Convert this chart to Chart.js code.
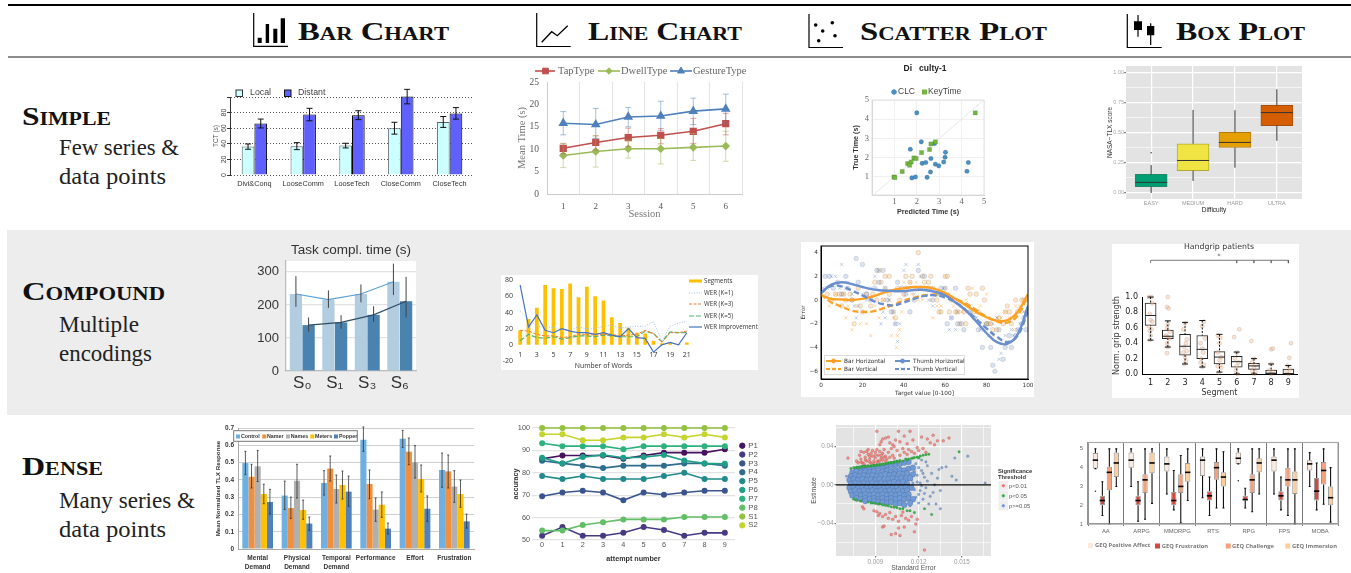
<!DOCTYPE html>
<html>
<head>
<meta charset="utf-8">
<title>Chart types by complexity</title>
<script src="https://cdn.jsdelivr.net/npm/chart.js@4/dist/chart.umd.js"></script>
<style>
  html, body { margin: 0; padding: 0; background: #fff; width: 1351px; height: 573px; overflow: hidden; }
  canvas { position: absolute; }
  #frame { position: absolute; left: 0; top: 0; }
  .head { font: bold 26px "Liberation Serif", serif; font-variant: small-caps; fill: #111; }
  .desc { font: 22.5px "Liberation Serif", serif; fill: #222; }
</style>
</head>
<body>
<svg id="frame" width="1351" height="573" xmlns="http://www.w3.org/2000/svg">
  <rect x="7" y="230" width="1344" height="185" fill="#ededed"/>
  <rect x="501" y="275" width="257" height="95" fill="#fff"/>
  <rect x="801" y="242" width="233" height="155" fill="#fff"/>
  <rect x="1112" y="244" width="187" height="154" fill="#fff"/>
  <line x1="8" y1="5" x2="1351" y2="5" stroke="#000" stroke-width="2"/>
  <line x1="8" y1="57" x2="1351" y2="57" stroke="#666" stroke-width="1.5"/>

  <!-- column header icons -->
  <path d="M253.7 13V46.3H288" fill="none" stroke="#000" stroke-width="1.2"/>
  <path d="M257.7 37.7h4V43h-4zM265.7 24h3.4v19h-3.4zM273.3 28.7h4V43h-4zM280.7 18.3h4.3V43h-4.3z" fill="#000"/>
  <path d="M536.7 13V46.5H570.7" fill="none" stroke="#000" stroke-width="1.2"/>
  <path d="M541.7 42.3L551.7 31.7L557.3 35.7L567.7 25.7" fill="none" stroke="#000" stroke-width="1.3"/>
  <path d="M809 14V47.5H843" fill="none" stroke="#000" stroke-width="1.2"/>
  <g fill="#000">
    <circle cx="815.7" cy="25" r="1.8"/><circle cx="832.3" cy="22.7" r="1.8"/><circle cx="822.7" cy="31" r="1.8"/>
    <circle cx="835" cy="35.7" r="1.8"/><circle cx="818.7" cy="40.7" r="1.8"/>
  </g>
  <path d="M1127.3 14V47.5H1161.7" fill="none" stroke="#000" stroke-width="1.2"/>
  <path d="M1138 15V36.7M1150.7 23.3V45" fill="none" stroke="#000" stroke-width="1.2"/>
  <path d="M1134 21.3h8V30h-8zM1147 26h7.3v9.3H1147z" fill="#000"/>

  <text class="head" x="298" y="40" textLength="151" lengthAdjust="spacingAndGlyphs">Bar Chart</text>
  <text class="head" x="588" y="40" textLength="154" lengthAdjust="spacingAndGlyphs">Line Chart</text>
  <text class="head" x="860" y="40" textLength="187" lengthAdjust="spacingAndGlyphs">Scatter Plot</text>
  <text class="head" x="1176" y="40" textLength="129" lengthAdjust="spacingAndGlyphs">Box Plot</text>

  <text class="head" x="22" y="125" textLength="89" lengthAdjust="spacingAndGlyphs">Simple</text>
  <text class="desc" x="59" y="155" textLength="120" lengthAdjust="spacingAndGlyphs">Few series &amp;</text>
  <text class="desc" x="59" y="184" textLength="107" lengthAdjust="spacingAndGlyphs">data points</text>
  <text class="head" x="22" y="300" textLength="143" lengthAdjust="spacingAndGlyphs">Compound</text>
  <text class="desc" x="59" y="332" textLength="80" lengthAdjust="spacingAndGlyphs">Multiple</text>
  <text class="desc" x="59" y="361" textLength="93" lengthAdjust="spacingAndGlyphs">encodings</text>
  <text class="head" x="22" y="475" textLength="81" lengthAdjust="spacingAndGlyphs">Dense</text>
  <text class="desc" x="59" y="508" textLength="136" lengthAdjust="spacingAndGlyphs">Many series &amp;</text>
  <text class="desc" x="59" y="537" textLength="107" lengthAdjust="spacingAndGlyphs">data points</text>
</svg>

<script>
// ---- Simple / bar chart ----
const simpleBarLabels = ['Divi&Conq', 'LooseComm', 'LooseTech', 'CloseComm', 'CloseTech']
const localTct = [36.4, 37, 37.7, 60, 68]
const localTctLow = [33, 32.5, 34.7, 52.4, 61]
const localTctHigh = [39.8, 41.5, 40.7, 67.6, 75]
const distantTct = [66, 77.5, 76.7, 100.5, 79]
const distantTctLow = [60.3, 69.5, 71, 91.2, 71.6]
const distantTctHigh = [71.7, 85.5, 82.4, 109.8, 86.4]

// ---- Simple / line chart ----
const sessions = ['1', '2', '3', '4', '5', '6']
const tapType = [10.2, 11.5, 12.6, 13.1, 14, 15.7]
const tapTypeLow = [9, 9.8, 10.6, 11.2, 11.3, 13.2]
const tapTypeHigh = [11.3, 13, 14.7, 14.6, 16.9, 18]
const dwellType = [8.6, 9.5, 10.1, 10.1, 10.4, 10.7]
const dwellTypeLow = [5.9, 6, 8, 6.7, 7.5, 7.3]
const dwellTypeHigh = [11.2, 13, 12, 12.4, 13.5, 14]
const gestureType = [15.8, 15.5, 17.2, 17.4, 18.5, 19]
const gestureTypeLow = [13.2, 12.4, 15, 14.2, 15.5, 15.8]
const gestureTypeHigh = [18.4, 19.1, 19.3, 20.7, 21.4, 22.3]

// ---- Simple / scatter plot ----
const clcPoints = [[2, 4.33], [2.2, 2.82], [1.71, 2.43], [2.79, 2.73], [3.28, 2.28], [3.26, 2.02], [2.63, 1.95], [2.24, 1.7], [2.4, 1.74],
  [2.83, 1.65], [2.98, 1.57], [3.2, 1.77], [4.3, 1.74], [4.24, 1.29], [2.61, 1.25], [1.78, 0.94], [1.94, 0.99], [2.46, 0.97]]
const keyTimePoints = [[4.61, 4.33], [2.83, 2.82], [2.63, 2.71], [2.57, 2.42], [2.21, 2.26], [1.87, 1.98], [1.97, 1.95], [1.59, 1.69],
  [1.75, 1.77], [1.68, 1.6], [1.35, 1.27], [0.98, 0.99], [1.02, 0.96]]
const identityLine = [[0, 0], [5, 5]]

// ---- Simple / box plot ----
const difficulties = ['EASY', 'MEDIUM', 'HARD', 'ULTRA']
const difficultySlots = [1, 2, 3, 4]
const tlxQ1 = [0.052, 0.185, 0.378, 0.56]
const tlxQ3 = [0.155, 0.409, 0.503, 0.729]
const tlxMedian = [0.088, 0.27, 0.42, 0.668]
const tlxLow = [0, 0.1, 0.21, 0.434]
const tlxHigh = [0.232, 0.69, 0.688, 0.862]
const tlxOutliers = [0.334, null, null, null]
const tlxColors = ['#009e73', '#f0e442', '#e69f00', '#d55e00']
const tlxEdges = ['#1f8a68', '#b3aa35', '#b07c0c', '#a84f10']

// ---- Compound / bar chart ----
const stimuli = ['S₀', 'S₁', 'S₃', 'S₆']
const complLight = [233, 216, 233, 270]
const complLightLow = [194, 191, 208, 230]
const complLightHigh = [287, 244, 262, 325]
const complDark = [139, 147, 170, 211]
const complDarkLow = [119, 128, 149, 162]
const complDarkHigh = [162, 169, 196, 285]

// ---- Compound / line chart ----
const wordCounts = ['1', '2', '3', '4', '5', '6', '7', '8', '9', '10', '11', '12', '13', '14', '15', '16', '17', '18', '19', '20', '21']
const segments = [18, 32, 46, 74, 70, 69, 76, 59, 72, 60, 55, 34, 27, 21, 15, 14, 5, 2, 3, 1, 3]
const werK1 = [42, 32, 23, 22, 22, 19, 19, 22, 20, 20, 23, 24, 21, 22, 23, 23, 29, 5, 23, 27, 29]
const werK3 = [18, 17, 13, 11, 11, 9, 10, 13, 13, 12, 13, 13, 11, 12, 13, 18, 14, 3, 15, 15, 17]
const werK5 = [5, 13, 9, 8, 10, 7, 9, 11, 11, 10, 12, 11, 10, 10, 10, 17, 14, 4, 16, 15, 15]
const werImprovement = [74, 22, 37, 18, 15, 20, 17, 15, 15, 13, 15, 12, 10, 20, 9, 8, -9, 0, 3, 0, 15]

// ---- Compound / scatter plot ----
const targetSteps = [0, 5, 10, 15, 20, 25, 30, 35, 40, 45, 50, 55, 60, 65, 70, 75, 80, 85, 90, 95, 100]
const barHorizontalFit = [0.4, 0.1, 0.05, 0, 0.1, 0.3, 0.6, 0.85, 1, 1.1, 1.1, 0.95, 0.6, 0.1, -0.45, -1, -1.45, -1.75, -1.7, -1, 0.5]
const barVerticalFit = [0.5, -0.2, -0.55, -0.9, -1, -0.95, -0.7, -0.4, -0.05, 0.2, 0.4, 0.45, 0.4, 0.1, -0.3, -0.85, -1.4, -1.8, -1.9, -1.3, 0.4]
const thumbHorizontalFit = [0.6, 1.3, 1.5, 1.35, 1.1, 0.9, 0.8, 0.75, 0.75, 0.85, 0.85, 0.7, 0.4, -0.2, -0.9, -1.8, -2.8, -3.55, -3.7, -2.9, -0.5]
const thumbVerticalFit = [0.6, 1.2, 1.15, 0.8, 0.4, -0.05, -0.35, -0.45, -0.2, 0.1, 0.35, 0.4, 0.2, -0.2, -0.85, -1.6, -2.4, -3.1, -3.55, -3, -0.9]
const barHorizontalPoints = [[3, .5], [5, 0], [7, .5], [9, .5], [10, -.5], [11, .5], [12, 0], [14, .5], [15, 0], [16, -2], [18, 1], [19, -.5], [20, -1], [22, .5], [24, -.5],
  [25, .5], [26, 1.5], [27, 0], [28, 2.5], [29, 1.5], [30, 0], [31, 2], [33, 2], [33, .5], [35, -1], [36, -1.5], [37, 1], [38, 0], [40, .5], [41, 1], [41, 2], [43, 1.5], [44, 2],
  [46, 1], [47, 4], [48, 1], [49, 2], [50, 1.5], [52, 1.5], [53, 2], [54, 1], [55, .5], [56, 0], [57, -1], [58, -1], [60, 2], [61, 2], [62, -1], [63, 0], [65, -1], [66, -1], [67, -2],
  [69, -1], [70, -2], [71, 1], [72, .5], [74, -1], [75, .5], [76, -1], [78, 1], [79, 0], [80, -2], [81, -2], [82, -2], [83, -2.5], [85, -2.5], [86, -1.5], [88, -2], [89, -1], [90, -.5],
  [91, -1], [92, -2], [94, 0], [95, -1], [97, 0], [98, 0], [99, 0]]
const barVerticalPoints = [[4, -.5], [7, .5], [9, -.5], [11, .5], [12, -1.5], [13, -.5], [15, -2.5], [17, -.5], [19, -2], [21, -1], [22, -2], [24, -3], [26, -.5], [28, -1.5], [30, 0],
  [31, 1], [33, 0], [34, -3], [35, -1.5], [37, -3], [36.5, -4], [38, -2.5], [39, -1], [40, 1.5], [42, 1], [43, 1.5], [44, .5], [46, 1.5], [47, 0], [49, 0], [51, 1], [53, 0], [54, -1.5], [56, -.5],
  [58, -.5], [60, 1], [62, .5], [64, -.5], [66, -1], [68, -1], [70, 0], [72, -.5], [73, 1], [75, -1], [77, -.5], [79, -2], [80, .5], [81, -1.5], [83, -3], [85, -1.5], [87, -1.5], [89, -1],
  [91, -1.5], [93, -2.5], [94, -.5], [96, -.5], [98, -1], [100, 0]]
const thumbHorizontalPoints = [[2, 2], [4, 2], [6, 1], [8, 1.5], [10, .5], [12, 2], [13, 1], [15, 0], [17, 3.5], [18, 1.5], [20, 3], [22, .5], [24, 0], [26, 1], [27, 2.5], [28, 1.5],
  [30, 2.5], [31, 1], [32, 0], [34, -1], [36, -2], [37, 1.5], [39, 1], [41, .5], [43, -1], [45, 0], [47, 2.5], [48, 1], [50, 2], [52, 1], [54, 0], [56, .5], [58, 1], [60, 1], [61, -2],
  [63, -1.5], [65, 1], [66, -2], [68, -2], [69, -2.5], [72, -1], [74, -1.5], [76, -2.5], [78, -4], [80, -2], [82, -4], [83, -5.5], [84, -6], [86, -2.5], [88, -5], [89, -4], [91, -3],
  [92, -4], [94, -3], [95, -2.5], [97, -2], [98, -1.5], [100, -1], [99, -2.5]]
const thumbVerticalPoints = [[1, 1], [3, 1], [5, 2], [7, 2], [9, 1], [10, 3], [12, 1], [13, 1.5], [15, .5], [16, -.5], [17, -1.5], [18, -.5], [20, .5], [22, 0], [24, 1], [26, 2], [28, 2.5],
  [29, -2], [30, -1], [31, -1.5], [33, 0], [35, -1], [36, -2], [37, -3.5], [38, -2], [40, 2.5], [41, 3], [43, 1], [45, .5], [47, 3], [48, 2], [50, 1], [52, 0], [54, -.5], [57, .5], [59, 1],
  [61, .5], [62, -2.5], [63, -1.5], [65, -2.5], [66, -1], [68, -.5], [72, -1], [75, -1.5], [77, -2.5], [79, -2.5], [81, -3], [83, -2], [85, -1.5], [86, -5], [87, -4.5], [89, -3],
  [90, -3.5], [92, -2.5], [93, -3], [95, -2.5], [96, -2], [98, -1], [100, -.5]]

// ---- Compound / box plot ----
const gripSegments = [1, 2, 3, 4, 5, 6, 7, 8, 9]
const gripQ1 = [0.63, 0.46, 0.245, 0.2, 0.13, 0.09, 0.06, 0, 0]
const gripQ3 = [0.92, 0.57, 0.515, 0.5, 0.29, 0.23, 0.14, 0.05, 0.065]
const gripMedian = [0.76, 0.49, 0.36, 0.32, 0.22, 0.16, 0.105, 0.01, 0.005]
const gripLow = [0.44, 0.35, 0.13, 0.09, 0.025, 0, 0, 0, 0]
const gripHigh = [1, 0.69, 0.67, 0.695, 0.515, 0.285, 0.2, 0.13, 0.11]
const gripPoints = [[.9, 1], [1.05, 1], [1.1, .92], [.95, .78], [1, .7], [1.1, .68], [.9, .62], [.95, .56], [1, .5], [.95, .44], [1.05, .58],
  [2, 1], [1.95, .87], [2.05, .85], [2, .65], [1.95, .6], [2.1, .55], [1.9, .5], [2, .48], [2.1, .46], [1.95, .4], [2, .35], [1.95, .27],
  [3, .66], [2.9, .58], [3.1, .45], [3.05, .4], [2.95, .35], [3.1, .3], [2.9, .28], [3, .22], [3.05, .17], [2.95, .13],
  [4.1, .68], [4, .62], [4.15, .46], [3.9, .4], [4, .33], [4.05, .28], [3.95, .2], [3.9, .15], [4.1, .12], [4, .09],
  [4.9, .5], [5.05, .47], [5, .4], [4.9, .28], [5.1, .22], [5, .18], [4.9, .1], [5.1, .08], [4.95, .02], [5.05, .12],
  [5.85, .48], [6.15, .58], [6, .28], [5.9, .2], [6.1, .15], [6, .1], [5.95, .05], [6.05, 0],
  [6.85, .43], [7, .2], [6.9, .15], [7.1, .12], [7, .08], [6.9, .04], [7.1, .02], [7, 0],
  [8, .32], [8.1, .33], [8, .13], [7.9, .05], [8.1, .03], [8, 0],
  [9.15, .4], [9.05, .21], [8.95, .11], [9.1, .06], [8.9, .03], [9, 0]]
const gripBracket = [[1, 1.44], [1, 1.477], [6, 1.477], [6, 1.44], [6, 1.477], [7, 1.477], [7, 1.44], [7, 1.477], [8, 1.477], [8, 1.44], [8, 1.477], [9, 1.477], [9, 1.44]]

// ---- Dense / bar chart ----
const tlxScales = [['Mental', 'Demand'], ['Physical', 'Demand'], ['Temporal', 'Demand'], 'Performance', 'Effort', 'Frustration']
const controlTlx = [.497, .309, .382, .632, .638, .457]
const controlLow = [.43, .229, .312, .565, .588, .357]
const controlHigh = [.565, .393, .453, .706, .686, .555]
const namerTlx = [.418, .237, .465, .376, .563, .449]
const namerLow = [.353, .177, .393, .291, .488, .353]
const namerHigh = [.49, .3, .538, .457, .642, .544]
const namesTlx = [.478, .395, .347, .228, .501, .361]
const namesLow = [.39, .295, .266, .16, .411, .27]
const namesHigh = [.57, .49, .428, .295, .598, .453]
const metersTlx = [.318, .226, .37, .256, .405, .318]
const metersLow = [.262, .172, .289, .183, .33, .241]
const metersHigh = [.375, .283, .451, .33, .486, .399]
const popperTlx = [.272, .147, .332, .118, .233, .16]
const popperLow = [.202, .108, .247, .087, .16, .121]
const popperHigh = [.345, .185, .422, .15, .307, .202]

// ---- Dense / line chart ----
const attempts = [0, 1, 2, 3, 4, 5, 6, 7, 8, 9]
const accP1 = [86.2, 87.7, 87.7, 87.7, 86.3, 87.7, 89, 89, 89, 90.5]
const accP2 = [51.9, 55.8, 51.9, 51.9, 53.2, 55.8, 54.5, 51.9, 53.2, 53.2]
const accP3 = [69.5, 71.2, 72, 71.2, 67.7, 71.2, 70.2, 71.2, 72, 72]
const accP4 = [85.4, 84.2, 83.2, 82.1, 83.2, 83.2, 83.2, 84.2, 84.2, 83.2]
const accP5 = [78.6, 77.2, 78.6, 77.2, 77.2, 77.2, 78.6, 80, 77.2, 77.2]
const accP6 = [86.7, 84.2, 87, 88, 86.7, 87, 88, 85.5, 84.2, 84]
const accP7 = [93.2, 91.9, 91.9, 91.9, 90.5, 91.9, 91.9, 91.9, 91.9, 91.9]
const accP8 = [54.2, 54.2, 56.7, 57.9, 59.2, 59.2, 59.2, 60.3, 60.3, 60.3]
const accS1 = [100, 100, 100, 100, 100, 100, 100, 100, 100, 100]
const accS2 = [97.2, 97.2, 94.5, 94.5, 95.8, 95.8, 97.2, 95.8, 97.2, 95.8]
const participantNames = ['P1', 'P2', 'P3', 'P4', 'P5', 'P6', 'P7', 'P8', 'S1', 'S2']
const participantColors = ['#46125f', '#473a85', '#3a5490', '#2f6d8e', '#218a8c', '#1f9f88', '#2db27d', '#62bf66', '#93c23f', '#c6d42f']

// ---- Dense / scatter plot, standard error and estimate in thousandths ----
const pLow1Points = [[7.1, 28], [7.7, 25], [7.9, 31], [8, 27], [8.1, 23], [8.2, 34], [8.3, 29], [8.4, 25], [8.5, 37], [8.5, 32], [8.6, 27], [8.7, 23], [8.8, 36], [8.8, 30], [8.9, 25],
  [9, 34], [9, 28], [9.1, 37], [9.2, 31], [9.2, 25], [9.3, 35], [9.4, 28], [9.5, 33], [9.5, 26], [9.6, 37], [9.7, 30], [9.8, 27], [9.9, 34], [10, 29], [10.1, 38], [10.2, 31], [10.3, 28],
  [7.8, 23], [8, 24], [8.2, 22], [8.3, 26], [8.6, 24], [8.7, 33], [8.9, 22], [9.1, 24], [9.3, 25], [9.4, 31], [9.6, 29], [9.7, 25], [8.4, 35], [8, 35], [8.6, 30], [9, 31],
  [10.5, 36], [10.7, 31], [10.9, 38], [11, 34], [11.2, 32], [11.3, 37], [11.5, 35], [11.7, 33], [11.9, 39], [12, 36], [12.3, 38], [12.5, 34],
  [9.1, 56], [9.4, 45], [9.5, 48], [9.7, 49], [9.9, 50], [10, 44], [10.2, 42], [10.4, 47], [10.6, 56], [10.7, 45], [11, 51], [11.4, 56], [11.6, 47], [12.2, 50], [12.6, 48], [13, 52],
  [13.3, 46], [13.7, 46], [14.1, 49], [12.8, 44], [13.1, 42], [9.3, 42], [11.2, 43], [10.3, 40],
  [8.1, -23], [8.2, -25], [8.9, -27], [9.1, -28], [9.3, -30], [9.5, -33], [9.7, -31], [9.9, -35], [10, -29], [10.2, -36], [10.4, -33], [10.6, -38], [10.8, -32], [11.1, -35], [11.3, -37],
  [11.5, -33], [11.8, -41], [11.9, -36], [9.5, -44], [9.6, -43], [10.1, -52], [10.4, -51], [10.7, -53], [10.6, -45], [11, -44], [11.7, -49], [12.4, -68], [9.2, -32], [10.9, -28.5]]
const pLow5Points = [[7.3, 17], [7.5, 18], [7.7, 18.5], [7.9, 19], [8.1, 19.5], [8.3, 19.5], [8.5, 20], [8.7, 20], [8.9, 20.5], [9.1, 21], [9.3, 21.5], [9.5, 22], [9.7, 22], [9.9, 23],
  [10.1, 23.5], [10.3, 24], [10.5, 25], [10.7, 25.5], [10.9, 25], [11.1, 27], [11.3, 27], [11.5, 27.5], [11.7, 28.5], [11.9, 29], [12.1, 30], [12.3, 31], [12.5, 31.5], [12.7, 32], [14.8, 34.5],
  [7.8, 18], [8, 18.5], [8.2, 19], [8.4, 19.5], [8.6, 19.5], [8.8, 20], [9, 20], [9.2, 20.5], [9.4, 21], [9.6, 21.5], [9.8, 22.5], [10, 23], [10.2, 23], [10.4, 24], [10.6, 24], [11.2, 26], [11.6, 28], [12, 28],
  [7.5, -15], [7.7, -16], [8, -17], [8.5, -18], [8.8, -19], [9, -19.5], [9.3, -20], [9.5, -21], [9.7, -21.5], [9.9, -22], [10.1, -23], [10.3, -23.5], [10.5, -24], [10.7, -25], [10.9, -25],
  [11.2, -27], [11.4, -27], [11.7, -29], [12.4, -25], [12.9, -31], [8.7, -19], [9.2, -20]]
const pHighCorePoints = [
  [7.7, 16], [8, 17], [8.3, 18], [8.6, 17], [8.9, 18], [9.2, 19], [9.5, 18], [9.8, 20], [10.1, 20], [10.4, 21], [10.7, 22], [11, 23], [11.3, 24],
  [7.4, 13], [7.7, 14], [8, 13], [8.3, 14], [8.6, 13], [8.9, 14], [9.2, 13], [9.5, 14], [9.8, 15], [10.1, 14], [10.4, 15], [10.7, 16], [11, 15], [11.3, 17], [11.6, 18],
  [7.3, 9], [7.6, 10], [7.9, 9], [8.2, 10], [8.5, 9], [8.8, 10], [9.1, 9], [9.4, 10], [9.7, 11], [10, 10], [10.3, 11], [10.6, 10], [10.9, 11], [11.2, 12], [11.6, 11],
  [7.2, 5], [7.5, 6], [7.8, 5], [8.1, 6], [8.4, 5], [8.7, 6], [9, 5], [9.3, 6], [9.6, 5], [9.9, 6], [10.2, 7], [10.5, 6], [10.8, 7], [11.1, 6], [11.4, 7],
  [7.3, 1], [7.6, 2], [7.9, 1], [8.2, 2], [8.5, 1], [8.8, 2], [9.1, 1], [9.4, 2], [9.7, 1], [10, 2], [10.3, 3], [10.6, 2], [10.9, 3], [11.2, 1],
  [7.2, -3], [7.5, -2], [7.8, -3], [8.1, -2], [8.4, -3], [8.7, -2], [9, -3], [9.3, -2], [9.6, -3], [9.9, -2], [10.2, -3], [10.5, -2], [10.8, -3], [11.1, -2], [11.5, -3],
  [7.3, -7], [7.6, -6], [7.9, -7], [8.2, -6], [8.5, -7], [8.8, -6], [9.1, -7], [9.4, -6], [9.7, -7], [10, -6], [10.3, -7], [10.6, -6], [10.9, -7], [11.2, -6],
  [7.4, -11], [7.7, -10], [8, -11], [8.3, -10], [8.6, -11], [8.9, -10], [9.2, -11], [9.5, -10], [9.8, -11], [10.1, -10], [10.4, -11], [10.7, -10], [11, -11], [11.3, -10],
  [7.7, -14], [8, -15], [8.3, -14], [8.6, -15], [8.9, -14], [9.2, -15], [9.5, -14], [9.8, -15], [10.1, -14], [10.4, -15], [10.7, -14], [11, -15], [11.3, -14], [11.6, -15],
  [8.3, -17], [8.9, -17], [9.2, -18], [9.5, -18], [9.8, -19], [10.1, -18], [10.4, -20], [10.7, -19], [11, -21], [11.4, -19]]
const pHighTailPoints = [[11.5, 5], [11.7, -5], [11.9, 10], [12, -10], [12.1, 2], [12.2, 15], [12.3, -15], [12.4, 8], [12.5, -3], [12.6, 20], [12.7, -20], [12.8, -12], [12.9, 12], [13, -8], [13.1, 0], [13.2, -20],
  [13.3, 7], [13.4, 16], [13.5, -25], [13.6, 18], [13.9, 19], [14.3, 9], [14.6, 5], [14.5, 28], [15.4, 30], [16.6, 2], [7, 9], [13.5, -6], [12, -19], [11.4, -22], [11.8, 22], [12.2, 26], [12.5, 24],
  [11.9, 3], [12.1, -6], [12.3, 12], [11.7, 14], [12, 18], [11.8, -13], [12.6, 4], [11.6, 2], [12.2, -1], [12.4, -9]]
const zeroLine = [[6.27, 0], [17.01, 0]]

// ---- Dense / box plot, one list per statistic and per GEQ scale ----
const genres = ['AA', 'ARPG', 'MMORPG', 'RTS', 'RPG', 'FPS', 'MOBA']
const affectQ1 = [3.95, 4, 3.8, 3.55, 4.2, 3.8, 3.85]
const affectQ3 = [4.78, 4.8, 4.6, 4.6, 4.8, 4.6, 4.4]
const affectMedian = [4.4, 4.4, 4.2, 4.4, 4.5, 4.4, 4.2]
const affectLow = [3.95, 3, 2.6, 2.4, 4.2, 2.6, 3]
const affectHigh = [5, 5, 5, 5, 5, 5, 4.8]
const affectOutliers = [2.75, null, null, null, 3.3, null, null]
const frustrationQ1 = [2, 2, 2, 2.25, 2.25, 2.25, 2.25]
const frustrationQ3 = [2.5, 2.5, 2.7, 2.75, 2.5, 2.75, 3.45]
const frustrationMedian = [2.25, 2.25, 2.25, 2.5, 2.3, 2.5, 2.75]
const frustrationLow = [1.45, 1.15, 1.75, 1.45, 1.85, 1.75, 1.75]
const frustrationHigh = [3.25, 3.25, 3.85, 3.5, 2.9, 3.5, 4.25]
const challengeQ1 = [2.8, 2.65, 2.65, 3.35, 2.65, 3, 3.1]
const challengeQ3 = [4.05, 3.65, 3.65, 4.3, 3.65, 4, 4.3]
const challengeMedian = [3.75, 3.35, 3, 4, 3.35, 3.35, 3.85]
const challengeLow = [1, 1.25, 1.05, 1.85, 1.65, 1.45, 2.05]
const challengeHigh = [5, 5, 4.65, 5, 5, 5, 5]
const immersionQ1 = [3.5, 3.7, 3.25, 3, 3.75, 2.6, 2]
const immersionQ3 = [4.8, 4.8, 4.25, 3.75, 4.5, 3.8, 3]
const immersionMedian = [4.25, 4.25, 3.75, 3.5, 4.25, 3.35, 2.4]
const immersionLow = [3, 2.1, 2.25, 1.85, 2.6, 1, 1.1]
const immersionHigh = [5, 5, 5, 4.85, 5, 5, 4]

const sans = '"Liberation Sans", Arial, sans-serif'
const dejavu = '"DejaVu Sans", sans-serif'
const serif = '"Liberation Serif", serif'
const openSans = '"Open Sans", sans-serif'

function asPoints(pairs) {
    return pairs.map(p => ({ x: p[0], y: p[1] }))
}

function zipPoints(xs, ys) {
    return xs.map((x, i) => ({ x: x, y: ys[i] }))
}

function floating(lows, highs) {
    return lows.map((v, i) => [v, highs[i]])
}

/**
 * Draws error bars, box whiskers, medians and outliers from the dataset's lists, through the chart's y scale
 */
const whiskerPlugin = {
    id: 'whiskers',
    afterDatasetsDraw(chart) {
        const ctx = chart.ctx
        const y = chart.scales.y
        chart.data.datasets.forEach((ds, i) => {
            const bars = chart.getDatasetMeta(i).data
            ctx.save()
            // line through the top of each bar
            if (ds.topLine) {
                ctx.strokeStyle = ds.topLine
                ctx.lineWidth = 1.2
                ctx.beginPath()
                bars.forEach((el, k) => { k ? ctx.lineTo(el.x, el.y) : ctx.moveTo(el.x, el.y) })
                ctx.stroke()
            }
            if (ds.high) {
                ctx.strokeStyle = ds.whiskerColor || '#000'
                ctx.lineWidth = ds.whiskerWidth || 1
                bars.forEach((el, k) => {
                    const top = y.getPixelForValue(ds.high[k])
                    const bottom = y.getPixelForValue(ds.low[k])
                    ctx.setLineDash(ds.whiskerDash || [])
                    ctx.beginPath()
                    if (ds.median) {
                        ctx.moveTo(el.x, top); ctx.lineTo(el.x, Math.min(el.y, el.base))
                        ctx.moveTo(el.x, bottom); ctx.lineTo(el.x, Math.max(el.y, el.base))
                    } else {
                        ctx.moveTo(el.x, top); ctx.lineTo(el.x, bottom)
                    }
                    ctx.stroke()
                    ctx.setLineDash([])
                    const cap = ds.capSize || 0
                    if (cap) {
                        ctx.beginPath()
                        ctx.moveTo(el.x - cap, top); ctx.lineTo(el.x + cap, top)
                        ctx.moveTo(el.x - cap, bottom); ctx.lineTo(el.x + cap, bottom)
                        ctx.stroke()
                    }
                })
            }
            if (ds.median) {
                ctx.strokeStyle = ds.medianColor || '#222'
                ctx.lineWidth = ds.medianWidth || 1
                bars.forEach((el, k) => {
                    const m = y.getPixelForValue(ds.median[k])
                    ctx.beginPath()
                    ctx.moveTo(el.x - el.width / 2, m); ctx.lineTo(el.x + el.width / 2, m)
                    ctx.stroke()
                })
            }
            if (ds.outliers) {
                ctx.fillStyle = ds.whiskerColor || '#000'
                bars.forEach((el, k) => {
                    if (ds.outliers[k] === null) return
                    ctx.beginPath()
                    ctx.arc(el.x, y.getPixelForValue(ds.outliers[k]), 0.7, 0, Math.PI * 2)
                    ctx.fill()
                })
            }
            ctx.restore()
        })
    }
}

// Fills and outlines the plot area
const plotBackPlugin = {
    id: 'plotBack',
    beforeDraw(chart, args, opts) {
        if (!opts.fill) return
        const a = chart.chartArea
        chart.ctx.save()
        chart.ctx.fillStyle = opts.fill
        chart.ctx.fillRect(a.left, a.top, a.width, a.height)
        chart.ctx.restore()
    },
    afterDraw(chart, args, opts) {
        if (!opts.stroke) return
        const a = chart.chartArea
        chart.ctx.save()
        chart.ctx.strokeStyle = opts.stroke
        chart.ctx.lineWidth = opts.strokeWidth || 1
        chart.ctx.strokeRect(a.left, a.top, a.width, a.height)
        chart.ctx.restore()
    }
}

// Legends and titles. Item positions are in page pixels
const keyPlugin = {
    id: 'key',
    afterDraw(chart, args, opts) {
        const ctx = chart.ctx
        const ox = chart.canvas.offsetLeft
        const oy = chart.canvas.offsetTop
        ;(opts.items || []).forEach(it => {
            ctx.save()
            ctx.translate(-ox, -oy)
            if (it.text !== undefined) {
                ctx.font = it.font
                ctx.fillStyle = it.color || '#333'
                ctx.textAlign = it.align || 'left'
                ctx.textBaseline = 'middle'
                ctx.fillText(it.text, it.x, it.y)
            } else if (it.w !== undefined) {
                if (it.fill) { ctx.fillStyle = it.fill; ctx.fillRect(it.x, it.y, it.w, it.h) }
                if (it.stroke) { ctx.strokeStyle = it.stroke; ctx.lineWidth = it.width || 1; ctx.strokeRect(it.x, it.y, it.w, it.h) }
            } else if (it.x2 !== undefined) {
                ctx.strokeStyle = it.color
                ctx.lineWidth = it.width || 1
                ctx.setLineDash(it.dash || [])
                ctx.beginPath(); ctx.moveTo(it.x, it.y); ctx.lineTo(it.x2, it.y); ctx.stroke()
            } else {
                ctx.fillStyle = it.fill
                ctx.strokeStyle = it.edge || it.fill
                ctx.lineWidth = it.width || 1
                Chart.helpers.drawPoint(ctx, { pointStyle: it.style, rotation: 0, radius: it.r, borderWidth: it.width || 1 }, it.x, it.y)
            }
            ctx.restore()
        })
    }
}

Chart.register(whiskerPlugin, plotBackPlugin, keyPlugin)
Chart.defaults.animation = false
Chart.defaults.responsive = false
Chart.defaults.plugins.legend.display = false
Chart.defaults.plugins.tooltip.enabled = false
Chart.defaults.events = []

/**
 * Creates a chart whose plot area sits at the given page rectangle
 * @param {Object} plot Plot area in page pixels (l, t, r, b)
 * @param {Object} m Room around the plot for axes and titles (l, t, r, b)
 * @param {Object} config Chart.js config
 */
function mount(plot, m, config) {
    const canvas = document.createElement('canvas')
    canvas.width = plot.r - plot.l + m.l + m.r
    canvas.height = plot.b - plot.t + m.t + m.b
    canvas.style.left = (plot.l - m.l) + 'px'
    canvas.style.top = (plot.t - m.t) + 'px'
    document.body.appendChild(canvas)
    const options = config.options
    options.layout = { padding: { top: m.t, right: m.r, left: 0, bottom: 0 } }
    options.scales.x.afterFit = s => { s.height = m.b }
    options.scales.y.afterFit = s => { s.width = m.l }
    options.maintainAspectRatio = false
    return new Chart(canvas, config)
}

function ticksAt(values) {
    return s => { s.ticks = values.map(v => ({ value: v })) }
}

// ---------- Simple / bar chart ----------
mount({ l: 230, t: 97, r: 474, b: 175 }, { l: 18, t: 15, r: 10, b: 20 }, {
    type: 'bar',
    data: {
        labels: simpleBarLabels,
        datasets: [
            { data: localTct, backgroundColor: '#ccffff', borderColor: '#55666a', borderWidth: 1, low: localTctLow, high: localTctHigh, capSize: 3, whiskerColor: '#111', clip: false },
            { data: distantTct, backgroundColor: '#6060ff', borderColor: '#000', borderWidth: 1, low: distantTctLow, high: distantTctHigh, capSize: 3, whiskerColor: '#111', clip: false }
        ]
    },
    options: {
        datasets: { bar: { categoryPercentage: 0.52, barPercentage: 1 } },
        scales: {
            x: { grid: { display: false, drawTicks: false }, border: { display: false }, ticks: { color: '#333', padding: 5, font: { family: sans, size: 7.3 }, maxRotation: 0, autoSkip: false } },
            y: {
                min: 0, max: 100,
                grid: { color: '#555', tickLength: 3, tickColor: '#333' },
                border: { color: '#333', dash: [1, 2] },
                ticks: { stepSize: 20, color: '#444', minRotation: 90, maxRotation: 90, crossAlign: 'center', padding: -1, font: { family: sans, size: 7 }, callback: v => v === 100 ? '' : v },
                title: { display: true, text: 'TCT (s)', color: '#555', padding: 0, font: { family: sans, size: 6.5 } }
            }
        },
        plugins: {
            key: { items: [
                { x: 236, y: 90, w: 6.5, h: 6.5, fill: '#ccffff', stroke: '#333' },
                { text: 'Local', x: 250, y: 93, font: '8.8px ' + sans, color: '#444' },
                { x: 284.5, y: 90, w: 6.5, h: 6.5, fill: '#6060ff', stroke: '#111' },
                { text: 'Distant', x: 298, y: 93, font: '8.8px ' + sans, color: '#444' }
            ] }
        }
    }
})

// ---------- Simple / line chart ----------
const errAlpha = (c) => c + '80'
mount({ l: 547, t: 82, r: 742, b: 194 }, { l: 31, t: 20, r: 10, b: 27 }, {
    type: 'line',
    data: {
        labels: sessions,
        datasets: [
            { data: gestureType, borderColor: '#4f81bd', backgroundColor: '#4f81bd', pointStyle: 'triangle', pointRadius: 4, borderWidth: 1.6, low: gestureTypeLow, high: gestureTypeHigh, capSize: 3, whiskerColor: errAlpha('#4f81bd') },
            { data: tapType, borderColor: '#c0504d', backgroundColor: '#c0504d', pointStyle: 'rect', pointRadius: 4, borderWidth: 1.6, low: tapTypeLow, high: tapTypeHigh, capSize: 3, whiskerColor: errAlpha('#c0504d') },
            { data: dwellType, borderColor: '#9bbb59', backgroundColor: '#9bbb59', pointStyle: 'rectRot', pointRadius: 3.2, borderWidth: 1.6, low: dwellTypeLow, high: dwellTypeHigh, capSize: 3, whiskerColor: errAlpha('#9bbb59') }
        ]
    },
    options: {
        scales: {
            x: {
                offset: true,
                grid: { offset: true, color: '#e4e4e4', drawTicks: false },
                border: { color: '#ccc' },
                ticks: { color: '#555', padding: 7, font: { family: serif, size: 9 } },
                title: { display: true, text: 'Session', color: '#777', padding: 0, font: { family: serif, size: 10.5 } }
            },
            y: {
                min: 0, max: 25,
                grid: { display: false, drawTicks: false },
                border: { color: '#ccc' },
                ticks: { stepSize: 5, color: '#555', padding: 8, font: { family: serif, size: 9.5 } },
                title: { display: true, text: 'Mean Time (s)', color: '#777', padding: 0, font: { family: serif, size: 10.5 } }
            }
        },
        plugins: {
            plotBack: {},
            key: { items: [
                { x: 535, x2: 555, y: 71, color: '#c0504d', width: 1.6 },
                { x: 545.5, y: 71, style: 'rect', r: 4, fill: '#c0504d' },
                { text: 'TapType', x: 558, y: 71, font: '10.5px ' + serif, color: '#666' },
                { x: 598, x2: 620, y: 71, color: '#9bbb59', width: 1.6 },
                { x: 609, y: 71, style: 'rectRot', r: 3.2, fill: '#9bbb59' },
                { text: 'DwellType', x: 621, y: 71, font: '10.5px ' + serif, color: '#666' },
                { x: 670, x2: 692, y: 71, color: '#4f81bd', width: 1.6 },
                { x: 681, y: 71, style: 'triangle', r: 4, fill: '#4f81bd' },
                { text: 'GestureType', x: 693, y: 71, font: '10.5px ' + serif, color: '#666' }
            ] }
        }
    }
})

// ---------- Simple / scatter plot ----------
mount({ l: 872, t: 100, r: 984, b: 195 }, { l: 20, t: 40, r: 10, b: 21 }, {
    type: 'scatter',
    data: {
        datasets: [
            { data: asPoints(keyTimePoints), backgroundColor: '#70b73f', pointStyle: 'rect', pointRadius: 3 },
            { data: asPoints(clcPoints), backgroundColor: '#4a90c4', pointRadius: 2.3 },
            { data: asPoints(identityLine), showLine: true, borderColor: '#e8e8e8', borderWidth: 1, pointRadius: 0 }
        ]
    },
    options: {
        scales: {
            x: {
                min: 0, max: 5,
                afterBuildTicks: ticksAt([1, 2, 3, 4, 5]),
                grid: { color: '#f0f0f0', drawTicks: false },
                border: { color: '#ccc' },
                ticks: { color: '#666', padding: 2, autoSkip: false, font: { family: serif, size: 8.5 } },
                title: { display: true, text: 'Predicted Time (s)', color: '#333', padding: 0, font: { family: sans, size: 7.2, weight: 'bold' } }
            },
            y: {
                min: 0.05, max: 5,
                afterBuildTicks: ticksAt([1, 2, 3, 4, 5]),
                grid: { color: '#f0f0f0', drawTicks: false },
                border: { color: '#ccc' },
                ticks: { color: '#666', padding: 3, font: { family: serif, size: 8.5 } },
                title: { display: true, text: 'True Time (s)', color: '#333', padding: 0, font: { family: sans, size: 7.2, weight: 'bold' } }
            }
        },
        plugins: {
            plotBack: { stroke: '#e2e2e2' },
            key: { items: [
                { text: 'Di   culty-1', x: 925, y: 69, align: 'center', font: 'bold 8.5px ' + sans, color: '#222' },
                { x: 894, y: 92, style: 'circle', r: 2.3, fill: '#4a90c4' },
                { text: 'CLC', x: 898, y: 92, font: '8.5px ' + sans, color: '#444' },
                { x: 922, y: 89.5, w: 5, h: 5, fill: '#70b73f' },
                { text: 'KeyTime', x: 928, y: 92, font: '8.5px ' + sans, color: '#444' }
            ] }
        }
    }
})

// ---------- Simple / box plot ----------
mount({ l: 1126, t: 66, r: 1302, b: 199 }, { l: 20, t: 6, r: 10, b: 15 }, {
    type: 'bar',
    data: {
        datasets: [{
            data: floating(tlxQ1, tlxQ3).map((v, i) => ({ x: difficultySlots[i], y: v })),
            backgroundColor: tlxColors, borderColor: tlxEdges, borderWidth: 1, borderSkipped: false, barThickness: 32,
            low: tlxLow, high: tlxHigh, median: tlxMedian, outliers: tlxOutliers,
            whiskerColor: '#333', medianColor: '#333', medianWidth: 1
        }]
    },
    options: {
        scales: {
            x: {
                type: 'linear', min: 0.4, max: 4.6, offset: false,
                afterBuildTicks: ticksAt(difficultySlots),
                grid: { offset: false, color: '#fff', lineWidth: 1.2, tickLength: 1 },
                border: { display: false },
                ticks: { color: '#999', padding: 0, autoSkip: false, maxRotation: 0, font: { family: sans, size: 5.5 }, callback: v => difficulties[v - 1] },
                title: { display: true, text: 'Difficulty', color: '#222', padding: 0, font: { family: sans, size: 6.5 } }
            },
            y: {
                min: -0.05, max: 1.055,
                afterBuildTicks: ticksAt([0, .125, .25, .375, .5, .625, .75, .875, 1]),
                grid: {
                    color: '#fff',
                    lineWidth: c => c.tick && c.tick.value % .25 === 0 ? 1.2 : 0.6,
                    tickColor: c => c.tick && c.tick.value % .25 === 0 ? '#888' : 'transparent',
                    tickLength: 2
                },
                border: { display: false },
                ticks: { color: '#aaa', padding: 0, font: { family: sans, size: 5.5 }, callback: v => v % .25 === 0 ? v.toFixed(2) : '' },
                title: { display: true, text: 'NASA−TLX score', color: '#333', padding: 0, font: { family: sans, size: 6.5 } }
            }
        },
        plugins: { plotBack: { fill: '#e3e3e3' } }
    }
})

// ---------- Compound / bar chart ----------
mount({ l: 286, t: 261, r: 416, b: 371 }, { l: 40, t: 25, r: 10, b: 30 }, {
    type: 'bar',
    data: {
        labels: stimuli,
        datasets: [
            { data: complLight, backgroundColor: '#b3cde0', low: complLightLow, high: complLightHigh, whiskerColor: '#444', topLine: '#5b9fd4', borderWidth: 0 },
            { data: complDark, backgroundColor: '#4a82b0', low: complDarkLow, high: complDarkHigh, whiskerColor: '#444', topLine: '#2f4d66', borderWidth: 0 }
        ]
    },
    options: {
        datasets: { bar: { categoryPercentage: 0.78, barPercentage: 0.97 } },
        scales: {
            x: { grid: { display: false, drawTicks: false }, border: { color: '#bbb', width: 1.2 }, ticks: { color: '#333', padding: 2, maxRotation: 0, font: { family: sans, size: 17 } } },
            y: {
                min: 0, max: 333,
                afterBuildTicks: ticksAt([0, 100, 200, 300]),
                grid: { color: '#e2e2e2', lineWidth: 1.2, drawTicks: false },
                border: { color: '#bbb', width: 1.2 },
                ticks: { color: '#333', padding: 7, font: { family: sans, size: 13 } }
            }
        },
        plugins: {
            plotBack: { fill: '#fff' },
            key: { items: [{ text: 'Task compl. time (s)', x: 351, y: 250.5, align: 'center', font: '13.5px ' + sans, color: '#333' }] }
        }
    }
})

// ---------- Compound / line chart ----------
const lineKeyFont = '6.2px ' + openSans
mount({ l: 516, t: 278, r: 691, b: 361 }, { l: 15, t: 5, r: 67, b: 9 }, {
    type: 'bar',
    data: {
        labels: wordCounts,
        datasets: [
            { type: 'line', data: werImprovement, borderColor: '#4472c4', borderWidth: 1.2, pointRadius: 0 },
            { type: 'line', data: werK1, borderColor: '#9dc3e6', borderWidth: 1, borderDash: [1, 1.5], pointRadius: 0 },
            { type: 'line', data: werK3, borderColor: '#ed7d31', borderWidth: 1, borderDash: [3, 1.5], pointRadius: 0 },
            { type: 'line', data: werK5, borderColor: '#58b368', borderWidth: 1.2, borderDash: [5, 2], pointRadius: 0 },
            { data: segments, backgroundColor: '#ffc000', categoryPercentage: 0.45, barPercentage: 1 }
        ]
    },
    options: {
        scales: {
            x: {
                grid: { display: false, drawTicks: false },
                border: { display: false },
                ticks: { color: '#333', mirror: true, padding: 2, autoSkip: false, maxRotation: 0, font: { family: openSans, size: 7 }, callback: (v, i) => i % 2 === 0 ? wordCounts[i] : '' },
                title: { display: true, text: 'Number of Words', color: '#333', padding: 0, font: { family: openSans, size: 6.9 } }
            },
            y: {
                min: -20, max: 80,
                afterBuildTicks: ticksAt([-20, 0, 20, 40, 60, 80]),
                grid: { display: false, drawTicks: false },
                border: { display: false },
                ticks: { color: '#333', padding: 3, autoSkip: false, font: { family: openSans, size: 7 } }
            }
        },
        plugins: {
            key: { items: [
                { x: 689, y: 279.5, w: 13, h: 3, fill: '#ffc000' },
                { text: 'Segments', x: 704, y: 281, font: lineKeyFont },
                { x: 689, x2: 702, y: 293, color: '#9dc3e6', dash: [1, 1.5] },
                { text: 'WER (K=1)', x: 704, y: 293, font: lineKeyFont },
                { x: 689, x2: 702, y: 304, color: '#ed7d31', dash: [3, 1.5] },
                { text: 'WER (K=3)', x: 704, y: 304, font: lineKeyFont },
                { x: 689, x2: 702, y: 316, color: '#58b368', width: 1.2, dash: [5, 2] },
                { text: 'WER (K=5)', x: 704, y: 316, font: lineKeyFont },
                { x: 689, x2: 702, y: 327, color: '#4472c4', width: 1.2 },
                { text: 'WER Improvement', x: 704, y: 327, font: lineKeyFont }
            ] }
        }
    }
})

// ---------- Compound / scatter plot ----------
const barOrange = '#ffa126'
const thumbBlue = '#6a8fce'
const fitStyle = { showLine: true, pointRadius: 0, tension: 0.4, borderWidth: 2.4 }
const mplKeyFont = '5.8px ' + dejavu
mount({ l: 821, t: 243, r: 1028, b: 379 }, { l: 21, t: 2, r: 9, b: 18 }, {
    type: 'scatter',
    data: {
        datasets: [
            { ...fitStyle, data: zipPoints(targetSteps, thumbHorizontalFit), borderColor: thumbBlue },
            { ...fitStyle, data: zipPoints(targetSteps, thumbVerticalFit), borderColor: thumbBlue, borderDash: [6, 3] },
            { ...fitStyle, data: zipPoints(targetSteps, barHorizontalFit), borderColor: barOrange },
            { ...fitStyle, data: zipPoints(targetSteps, barVerticalFit), borderColor: barOrange, borderDash: [6, 3] },
            { data: asPoints(thumbHorizontalPoints), backgroundColor: thumbBlue + '40', pointRadius: 2.3 },
            { data: asPoints(thumbVerticalPoints), borderColor: thumbBlue + '66', pointStyle: 'crossRot', pointRadius: 2.4, pointBorderWidth: 1 },
            { data: asPoints(barHorizontalPoints), backgroundColor: barOrange + '40', pointRadius: 2.3 },
            { data: asPoints(barVerticalPoints), borderColor: barOrange + '66', pointStyle: 'crossRot', pointRadius: 2.4, pointBorderWidth: 1 }
        ]
    },
    options: {
        scales: {
            x: {
                min: 0, max: 100,
                grid: { display: false, tickLength: 2, drawOnChartArea: false, tickColor: '#000' },
                border: { color: '#000' },
                ticks: { stepSize: 20, color: '#333', padding: 1, font: { family: dejavu, size: 5.8 } },
                title: { display: true, text: 'Target value [0-100]', color: '#333', padding: 0, font: { family: dejavu, size: 5.8 } }
            },
            y: {
                min: -6.66, max: 4.56,
                afterBuildTicks: ticksAt([-6, -4, -2, 0, 2, 4]),
                grid: { display: false, tickLength: 2, drawOnChartArea: false, tickColor: '#000' },
                border: { color: '#000' },
                ticks: { color: '#333', padding: 1, font: { family: dejavu, size: 5.8 }, callback: v => v < 0 ? '−' + (-v) : v },
                title: { display: true, text: 'Error', color: '#333', padding: 0, font: { family: dejavu, size: 5.8 } }
            }
        },
        plugins: {
            plotBack: { stroke: '#000' },
            key: { items: [
                { x: 824.5, y: 355.5, w: 140, h: 19, fill: '#ffffffd9', stroke: '#ddd' },
                { x: 826, x2: 841, y: 361, color: barOrange, width: 2 },
                { x: 833.5, y: 361, style: 'circle', r: 2, fill: barOrange },
                { text: 'Bar Horizontal', x: 844, y: 361, font: mplKeyFont },
                { x: 826, x2: 841, y: 369, color: barOrange, width: 2, dash: [4, 2] },
                { x: 833.5, y: 369, style: 'crossRot', r: 2, fill: barOrange },
                { text: 'Bar Vertical', x: 844, y: 369, font: mplKeyFont },
                { x: 895, x2: 910, y: 361, color: thumbBlue, width: 2 },
                { x: 902.5, y: 361, style: 'circle', r: 2, fill: thumbBlue },
                { text: 'Thumb Horizontal', x: 913, y: 361, font: mplKeyFont },
                { x: 895, x2: 910, y: 369, color: thumbBlue, width: 2, dash: [4, 2] },
                { x: 902.5, y: 369, style: 'crossRot', r: 2, fill: thumbBlue },
                { text: 'Thumb Vertical', x: 913, y: 369, font: mplKeyFont }
            ] }
        }
    }
})

// ---------- Compound / box plot ----------
mount({ l: 1142, t: 297, r: 1297, b: 374 }, { l: 30, t: 55, r: 10, b: 24 }, {
    type: 'bar',
    data: {
        datasets: [
            { type: 'scatter', data: asPoints(gripPoints), backgroundColor: '#ffb98a66', pointRadius: 2, clip: false },
            { type: 'scatter', data: asPoints(gripBracket), showLine: true, borderColor: '#555', borderWidth: 0.8, pointRadius: 0, clip: false },
            {
                data: floating(gripQ1, gripQ3).map((v, i) => ({ x: gripSegments[i], y: v })),
                backgroundColor: '#ffffff', borderColor: '#222', borderWidth: 1, borderSkipped: false, barThickness: 11,
                low: gripLow, high: gripHigh, median: gripMedian, capSize: 3, whiskerColor: '#111', whiskerDash: [2, 1.5], medianColor: '#222'
            }
        ]
    },
    options: {
        scales: {
            x: {
                type: 'linear', min: 0.5, max: 9.5, offset: false,
                afterBuildTicks: ticksAt(gripSegments),
                grid: { offset: false, display: false, tickLength: 2, drawOnChartArea: false, tickColor: '#000' },
                border: { color: '#000' },
                ticks: { color: '#222', padding: 2, autoSkip: false, font: { family: dejavu, size: 8 } },
                title: { display: true, text: 'Segment', color: '#333', padding: 0, font: { family: dejavu, size: 8 } }
            },
            y: {
                min: 0, max: 1,
                grid: { display: false, tickLength: 2, drawOnChartArea: false, tickColor: '#000' },
                border: { color: '#000' },
                ticks: { stepSize: .2, color: '#222', padding: 2, font: { family: dejavu, size: 8 }, callback: v => v.toFixed(1) },
                title: { display: true, text: 'Norm. grip strength', color: '#333', padding: 0, font: { family: dejavu, size: 8 } }
            }
        },
        plugins: {
            key: { items: [
                { text: 'Handgrip patients', x: 1219, y: 247, align: 'center', font: '7.8px ' + dejavu, color: '#333' },
                { text: '*', x: 1219, y: 256.5, align: 'center', font: '6px ' + dejavu, color: '#333' }
            ] }
        }
    }
})

// ---------- Dense / bar chart ----------
const tlxKeyFont = 'bold 5.3px ' + sans
const tlxErr = { capSize: 1, whiskerColor: '#333', whiskerWidth: 0.8 }
mount({ l: 238, t: 428, r: 474, b: 549 }, { l: 23, t: 8, r: 10, b: 24 }, {
    type: 'bar',
    data: {
        labels: tlxScales,
        datasets: [
            { data: controlTlx, backgroundColor: '#6fb0e0', low: controlLow, high: controlHigh, ...tlxErr, clip: false },
            { data: namerTlx, backgroundColor: '#f0903f', low: namerLow, high: namerHigh, ...tlxErr },
            { data: namesTlx, backgroundColor: '#b0b0b0', low: namesLow, high: namesHigh, ...tlxErr },
            { data: metersTlx, backgroundColor: '#ffc000', low: metersLow, high: metersHigh, ...tlxErr },
            { data: popperTlx, backgroundColor: '#4f81bd', low: popperLow, high: popperHigh, ...tlxErr }
        ]
    },
    options: {
        datasets: { bar: { categoryPercentage: 0.78, barPercentage: 1 } },
        scales: {
            x: {
                grid: { display: false, tickLength: 2, drawOnChartArea: false, offset: true, tickColor: '#aaa' },
                border: { color: '#aaa' },
                ticks: { color: '#333', padding: 3, autoSkip: false, maxRotation: 0, font: { family: sans, size: 6.5, weight: 'bold', lineHeight: 1.35 } }
            },
            y: {
                min: 0, max: 0.7,
                grid: { color: '#cfcfcf', drawTicks: false },
                border: { color: '#aaa' },
                ticks: { stepSize: .1, color: '#333', padding: 4, font: { family: sans, size: 6.5, weight: 'bold' }, callback: v => Math.round(v * 10) / 10 },
                title: { display: true, text: 'Mean Normalized TLX Response', color: '#333', padding: 0, font: { family: sans, size: 6.2, weight: 'bold' } }
            }
        },
        plugins: {
            key: { items: [
                { x: 233.7, y: 430.7, w: 123.6, h: 10.6, fill: '#fff', stroke: '#777' },
                { x: 236, y: 434.5, w: 4, h: 4, fill: '#6fb0e0' },
                { text: 'Control', x: 241, y: 436.5, font: tlxKeyFont },
                { x: 262.3, y: 434.5, w: 4, h: 4, fill: '#f0903f' },
                { text: 'Namer', x: 267, y: 436.5, font: tlxKeyFont },
                { x: 286, y: 434.5, w: 4, h: 4, fill: '#b0b0b0' },
                { text: 'Names', x: 290.7, y: 436.5, font: tlxKeyFont },
                { x: 310.3, y: 434.5, w: 4, h: 4, fill: '#ffc000' },
                { text: 'Meters', x: 315, y: 436.5, font: tlxKeyFont },
                { x: 334, y: 434.5, w: 4, h: 4, fill: '#4f81bd' },
                { text: 'Popper', x: 339, y: 436.5, font: tlxKeyFont }
            ] }
        }
    }
})

// ---------- Dense / line chart ----------
const accuracySeries = [accS2, accS1, accP8, accP7, accP6, accP5, accP4, accP3, accP2, accP1]
const accuracyNames = ['S2', 'S1', 'P8', 'P7', 'P6', 'P5', 'P4', 'P3', 'P2', 'P1']
mount({ l: 532, t: 428, r: 735, b: 540 }, { l: 20, t: 8, r: 40, b: 23 }, {
    type: 'scatter',
    data: {
        datasets: accuracySeries.map((values, i) => {
            const color = participantColors[participantNames.indexOf(accuracyNames[i])]
            return { data: zipPoints(attempts, values), showLine: true, borderColor: color, backgroundColor: color, borderWidth: 1.6, pointRadius: 2.2, clip: false }
        })
    },
    options: {
        scales: {
            x: {
                min: -0.5, max: 9.5,
                afterBuildTicks: ticksAt(attempts),
                grid: { display: false, drawTicks: false },
                border: { display: false },
                ticks: { color: '#555', padding: 1, autoSkip: false, font: { family: sans, size: 7.3 } },
                title: { display: true, text: 'attempt number', color: '#333', padding: 0, font: { family: sans, size: 7.2, weight: 'bold' } }
            },
            y: {
                min: 50, max: 100,
                grid: { color: '#e2e2e2', lineWidth: 1.2, drawTicks: false },
                border: { display: false },
                ticks: { stepSize: 10, color: '#555', padding: 2, font: { family: sans, size: 7.3 } },
                title: { display: true, text: 'accuracy', color: '#333', padding: 0, font: { family: sans, size: 7.2, weight: 'bold' } }
            }
        },
        plugins: {
            key: { items: participantNames.flatMap((name, i) => [
                { x: 742.3, y: 445.7 + i * 8.85, style: 'circle', r: 2.7, fill: participantColors[i] },
                { text: name, x: 748.3, y: 445.7 + i * 8.85, font: '7.8px ' + sans, color: '#555' }
            ]) }
        }
    }
})

// ---------- Dense / scatter plot ----------
const sigKeyFont = '5.8px ' + sans
mount({ l: 836, t: 423, r: 991, b: 556 }, { l: 26, t: 3, r: 50, b: 16 }, {
    type: 'scatter',
    data: {
        datasets: [
            { data: asPoints(zeroLine), showLine: true, borderColor: '#000', borderWidth: 1.1, pointRadius: 0 },
            { data: asPoints(pLow5Points), backgroundColor: '#39b54a', pointRadius: 1.3 },
            { data: asPoints(pHighCorePoints), backgroundColor: '#6f9ad6', pointRadius: 2.9 },
            { data: asPoints(pHighTailPoints), backgroundColor: '#6f9ad6cc', pointRadius: 1.3 },
            { data: asPoints(pLow1Points), backgroundColor: '#f8766dcc', pointRadius: 1.5 }
        ]
    },
    options: {
        scales: {
            x: {
                min: 6.27, max: 17.01,
                afterBuildTicks: ticksAt([7.5, 9, 10.5, 12, 13.5, 15, 16.5]),
                grid: {
                    color: '#fff',
                    lineWidth: c => c.tick && c.tick.value % 3 === 0 ? 1.2 : 0.6,
                    tickColor: c => c.tick && c.tick.value % 3 === 0 ? '#777' : 'transparent',
                    tickLength: 1.5
                },
                border: { display: false },
                ticks: { color: '#999', padding: 1, autoSkip: false, maxRotation: 0, font: { family: sans, size: 6.3 }, callback: v => v % 3 === 0 ? (v / 1000).toFixed(3) : '' },
                title: { display: true, text: 'Standard Error', color: '#555', padding: 0, font: { family: sans, size: 6.8 } }
            },
            y: {
                min: -74.4, max: 62.6,
                afterBuildTicks: ticksAt([-60, -40, -20, 0, 20, 40, 60]),
                grid: {
                    color: '#fff',
                    lineWidth: c => c.tick && c.tick.value % 40 === 0 ? 1.2 : 0.6,
                    tickColor: c => c.tick && c.tick.value % 40 === 0 ? '#777' : 'transparent',
                    tickLength: 1.5
                },
                border: { display: false },
                ticks: { color: '#999', padding: 1, font: { family: sans, size: 6.3 }, callback: v => v % 40 !== 0 ? '' : (v < 0 ? '−' : '') + (Math.abs(v) / 1000).toFixed(2) },
                title: { display: true, text: 'Estimate', color: '#555', padding: 0, font: { family: sans, size: 6.8 } }
            }
        },
        plugins: {
            plotBack: { fill: '#e3e3e3' },
            key: { items: [
                { text: 'Significance', x: 998, y: 471, font: 'bold 5.8px ' + sans, color: '#333' },
                { text: 'Threshold', x: 998, y: 477, font: 'bold 5.8px ' + sans, color: '#333' },
                { x: 998.5, y: 481, w: 9.5, h: 9.5, fill: '#eeeeee' },
                { x: 1003.3, y: 485.8, style: 'circle', r: 1.2, fill: '#f8766d' },
                { text: 'p<0.01', x: 1009, y: 486, font: sigKeyFont, color: '#555' },
                { x: 998.5, y: 491, w: 9.5, h: 9.5, fill: '#eeeeee' },
                { x: 1003.3, y: 495.8, style: 'circle', r: 1.2, fill: '#39b54a' },
                { text: 'p<0.05', x: 1009, y: 496, font: sigKeyFont, color: '#555' },
                { x: 998.5, y: 501, w: 9.5, h: 9.5, fill: '#eeeeee' },
                { x: 1003.3, y: 505.8, style: 'circle', r: 1.2, fill: '#6f9ad6' },
                { text: 'p>=0.05', x: 1009, y: 506, font: sigKeyFont, color: '#555' }
            ] }
        }
    }
})

// ---------- Dense / box plot ----------
const geqBox = { borderColor: '#999', borderWidth: 1, borderSkipped: false, capSize: 1, whiskerColor: '#111', whiskerWidth: 1.1, medianColor: '#000', medianWidth: 1.6 }
const geqKeyFont = 'bold 5.8px ' + openSans
mount({ l: 1088, t: 439, r: 1338, b: 524 }, { l: 14, t: 3, r: 10, b: 28 }, {
    type: 'bar',
    data: {
        labels: genres,
        datasets: [
            { ...geqBox, data: floating(affectQ1, affectQ3), backgroundColor: '#fbeadd', low: affectLow, high: affectHigh, median: affectMedian, outliers: affectOutliers },
            { ...geqBox, data: floating(frustrationQ1, frustrationQ3), backgroundColor: '#d0493c', low: frustrationLow, high: frustrationHigh, median: frustrationMedian },
            { ...geqBox, data: floating(challengeQ1, challengeQ3), backgroundColor: '#f4a07a', low: challengeLow, high: challengeHigh, median: challengeMedian },
            { ...geqBox, data: floating(immersionQ1, immersionQ3), backgroundColor: '#fbcf9c', low: immersionLow, high: immersionHigh, median: immersionMedian }
        ]
    },
    options: {
        datasets: { bar: { categoryPercentage: 0.78, barPercentage: 0.76 } },
        scales: {
            x: {
                grid: { color: '#777', lineWidth: 1, tickLength: 2, offset: true },
                border: { color: '#777', width: 1.2 },
                ticks: { color: '#666', padding: 2, autoSkip: false, maxRotation: 0, font: { family: sans, size: 5.8 } }
            },
            y: {
                min: 1, max: 5.34,
                afterBuildTicks: ticksAt([1, 2, 3, 4, 5]),
                grid: { display: false, tickLength: 2, drawOnChartArea: false, tickColor: '#999' },
                border: { color: '#777', width: 1.2 },
                ticks: { color: '#666', padding: 3, font: { family: sans, size: 5.8 } }
            }
        },
        plugins: {
            plotBack: { stroke: '#aaa', strokeWidth: 1.2 },
            key: { items: [
                { x: 1088, y: 543, w: 5, h: 5, fill: '#fbeadd' },
                { text: 'GEQ Positive Affect', x: 1095, y: 545.5, font: geqKeyFont, color: '#777' },
                { x: 1155, y: 543.5, w: 5, h: 5, fill: '#d0493c' },
                { text: 'GEQ Frustration', x: 1161.7, y: 546, font: geqKeyFont, color: '#777' },
                { x: 1225.7, y: 543.5, w: 5, h: 5, fill: '#f4a07a' },
                { text: 'GEQ Challenge', x: 1232, y: 546, font: geqKeyFont, color: '#777' },
                { x: 1285.3, y: 543.5, w: 5, h: 5, fill: '#fbcf9c' },
                { text: 'GEQ Immersion', x: 1292, y: 546, font: geqKeyFont, color: '#777' }
            ] }
        }
    }
})
</script>
</body>
</html>
